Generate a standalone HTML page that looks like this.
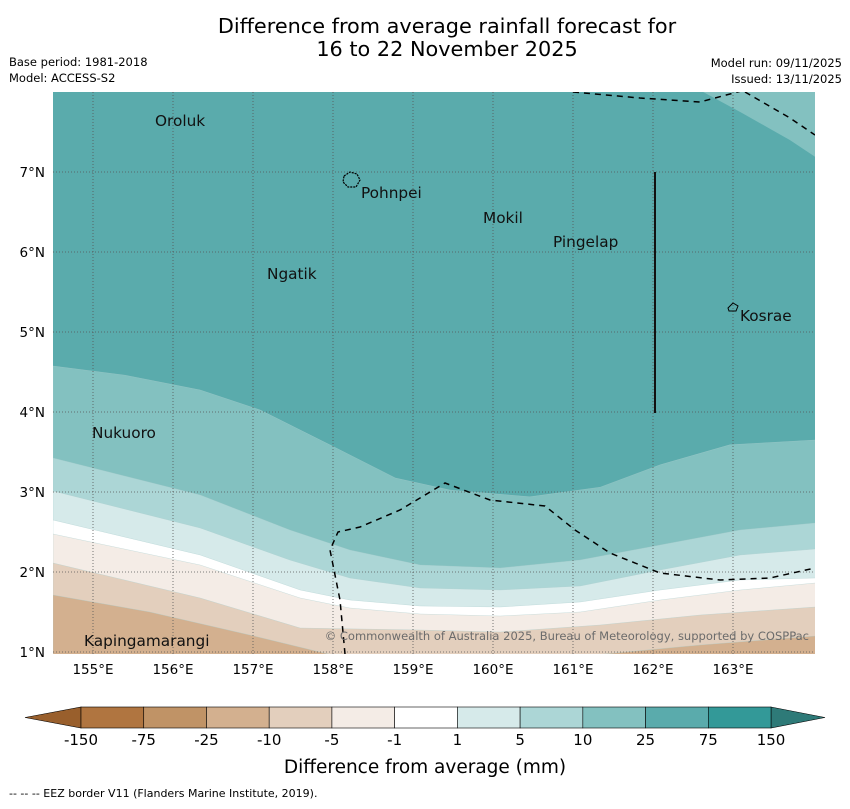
<!DOCTYPE html>
<html><head><meta charset="utf-8">
<style>
body{margin:0;background:#fff;font-family:"Liberation Sans","DejaVu Sans",sans-serif;}
svg text{font-family:"DejaVu Sans","Liberation Sans",sans-serif;}
</style></head>
<body>
<svg id="chart" width="850" height="804" viewBox="0 0 850 804" xmlns="http://www.w3.org/2000/svg">
<text x="447" y="33" text-anchor="middle" font-size="20.8">Difference from average rainfall forecast for</text>
<text x="447" y="56" text-anchor="middle" font-size="20.8">16 to 22 November 2025</text>
<text x="9" y="66" font-size="11.5">Base period: 1981-2018</text>
<text x="9" y="82" font-size="11.5">Model: ACCESS-S2</text>
<text x="842" y="67" font-size="11.5" text-anchor="end">Model run: 09/11/2025</text>
<text x="842" y="83" font-size="11.5" text-anchor="end">Issued: 13/11/2025</text>
<defs><clipPath id="mapclip"><rect x="53" y="92" width="762" height="562"/></clipPath></defs>
<g id="map" clip-path="url(#mapclip)"></g>
<g id="overlay"></g>
<g id="cbar"></g>
<text x="425" y="773" text-anchor="middle" font-size="18.5">Difference from average (mm)</text>
<text x="9" y="797" font-size="11">--  --  -- EEZ border V11 (Flanders Marine Institute, 2019).</text>
</svg>
<script>
const lonTicks=[155,156,157,158,159,160,161,162,163];
const latTicks=[1,2,3,4,5,6,7];
const cbLevels=["-150","-75","-25","-10","-5","-1","1","5","10","25","75","150"];
const cbColors=["#b07540","#c09366","#d3b08f","#e3cfbd","#f4ece6","#ffffff","#d6eaea","#acd6d6","#83c1c0","#5aabac","#339998"];
const line25Lon=[154.5,155.4,156.34,157.09,157.96,158.78,159.46,160.46,161.34,162.09,162.96,164.03];
const line25Lat=[4.575,4.46,4.275,4.025,3.59,3.175,3.025,2.94,3.06,3.34,3.59,3.65];
const lonsA=[154.5,156.34,157.46,158.21,159.09,160.09,161.09,162.09,163.09,164.03];
const line10Lat=[3.425,2.9625,2.525,2.275,2.0875,2.05,2.15,2.3375,2.525,2.6125];
const line5Lat=[3.0125,2.55,2.15,1.925,1.8,1.775,1.825,2.025,2.2125,2.2875];
const lonsB=[154.5,156.34,157.59,158.21,159.09,160.09,161.09,162.09,163.09,164.03];
const line1Lat=[2.65,2.2125,1.775,1.65,1.575,1.5625,1.625,1.775,1.9,1.925];
const lineM1Lat=[2.475,2.0875,1.675,1.55,1.475,1.45,1.5,1.65,1.775,1.8625];
const lineM5Lon=[154.5,156.34,157.59,159.09,160.09,161.34,162.59,164.03];
const lineM5Lat=[2.1125,1.675,1.3,1.275,1.25,1.3375,1.4625,1.5625];
const lineM10aLon=[154.5,155.71,156.96,157.96];
const lineM10aLat=[1.7125,1.5,1.2125,0.97];
const lineM10bLon=[161.34,162.59,164.03];
const lineM10bLat=[0.97,1.0875,1.2];
const cornerLon=[162.59,163.09,163.71,164.03];
const cornerLat=[8.02,7.75,7.4,7.1875];

const NS="http://www.w3.org/2000/svg";
const X=lon=>53+(lon-154.5)*80;
const Y=lat=>92+(8-lat)*80;
function mk(tag,attrs,parent){const e=document.createElementNS(NS,tag);for(const k in attrs)e.setAttribute(k,attrs[k]);parent.appendChild(e);return e;}
const map=document.getElementById('map');
const ov=document.getElementById('overlay');
let r=mk('rect',{x:53,y:92,width:762,height:562,fill:"#5aabac"},map);


function below(lons,lats,color,name){
  let d='M'+X(lons[0])+','+Y(lats[0]);
  for(let i=1;i<lons.length;i++)d+=' L'+X(lons[i])+','+Y(lats[i]);
  d+=' L'+X(lons[lons.length-1])+',660 L'+X(lons[0])+',660 Z';
  const p=mk('path',{d:d,fill:color,stroke:"#a9cccc",'stroke-width':0.3,'stroke-linejoin':'round'},map);
  
  
}
below(line25Lon,line25Lat,cbColors[8],'band-10-25');
below(lonsA,line10Lat,cbColors[7],'band-5-10');
below(lonsA,line5Lat,cbColors[6],'band-1-5');
below(lonsB,line1Lat,cbColors[5],'band-neutral');
below(lonsB,lineM1Lat,cbColors[4],'band-minus1-minus5');
below(lineM5Lon,lineM5Lat,cbColors[3],'band-minus5-minus10');
below(lineM10aLon,lineM10aLat,cbColors[2],'band-minus10-minus25-west');
below(lineM10bLon,lineM10bLat,cbColors[2],'band-minus10-minus25-east');
{
  let d='M'+X(cornerLon[0])+','+Y(cornerLat[0]);
  for(let i=1;i<cornerLon.length;i++)d+=' L'+X(cornerLon[i])+','+Y(cornerLat[i]);
  d+=' L820,'+Y(cornerLat[cornerLat.length-1])+' L820,88 Z';
  const p=mk('path',{d:d,fill:cbColors[8]},map);
  
  
}
lonTicks.forEach(l=>{
  const g=mk('line',{x1:X(l),x2:X(l),y1:92,y2:654,stroke:"#555",'stroke-width':0.8,'stroke-dasharray':"1,2"},map);
  
  
  const t=mk('text',{x:X(l),y:674,'text-anchor':'middle','font-size':13.5},ov);
  t.textContent=l+'°E';
  
  
});
latTicks.forEach(l=>{
  const g=mk('line',{x1:53,x2:815,y1:Y(l),y2:Y(l),stroke:"#555",'stroke-width':0.8,'stroke-dasharray':"1,2"},map);
  
  
  const t=mk('text',{x:45,y:Y(l)+5,'text-anchor':'end','font-size':13.5},ov);
  t.textContent=l+'°N';
  
  
});
const eez=[
 "M573,92 L640,98 L700,102 L745,90",
 "M745,92 L790,118 L815,135",
 "M345,654 L340,600 L330,550 L338,532 L360,527 L400,510 L445,483 L490,500 L545,506 L575,530 L610,553 L660,573 L720,580 L770,578 L815,568"
];
eez.forEach(d=>{
  const p=mk('path',{d:d,fill:"none",stroke:"#000",'stroke-width':1.5,'stroke-dasharray':"6,5"},map);
  
  
});
let vl=mk('line',{x1:655,x2:655,y1:172,y2:413,stroke:"#111",'stroke-width':2},map);


let pi=mk('path',{d:"M344,176 L350,172 L357,174 L360,180 L356,187 L348,187 L343,182 Z",fill:"none",stroke:"#000",'stroke-width':1.2,'stroke-dasharray':"2,1"},map);


let ko=mk('path',{d:"M728,308 L733,303 L738,306 L736,311 L729,311 Z",fill:"none",stroke:"#000",'stroke-width':1},map);


const places=[["Oroluk",155,121],["Pohnpei",361,193],["Mokil",483,218],["Pingelap",553,242],["Ngatik",267,274],["Kosrae",740,316],["Nukuoro",92,433],["Kapingamarangi",84,641]];
places.forEach(p=>{
  const t=mk('text',{x:p[1],y:p[2]+5,'font-size':15.3,fill:"#111"},ov);
  t.textContent=p[0];
  
  
});
let cp=mk('text',{x:809,y:640,'text-anchor':'end','font-size':11.5,fill:"#6b6b6b"},ov);
cp.textContent="© Commonwealth of Australia 2025, Bureau of Meteorology, supported by COSPPac";


const cb=document.getElementById('cbar');
const cx=i=>81+i*62.73;
let lt=mk('path',{d:"M25,717.5 L81,707 L81,728 Z",fill:"#995f2c",stroke:"#000",'stroke-width':0.6},cb);


let rt=mk('path',{d:"M771,707 L825,717.5 L771,728 Z",fill:"#2e7a78",stroke:"#000",'stroke-width':0.6},cb);


cbColors.forEach((c,i)=>{
  const s=mk('rect',{x:cx(i),y:707,width:62.73,height:21,fill:c,stroke:"#000",'stroke-width':0.6},cb);
  
  
});
cbLevels.forEach((l,i)=>{
  const t=mk('text',{x:cx(i),y:745,'text-anchor':'middle','font-size':15},cb);
  t.textContent=l;
  
  
});
</script>
</body></html>
